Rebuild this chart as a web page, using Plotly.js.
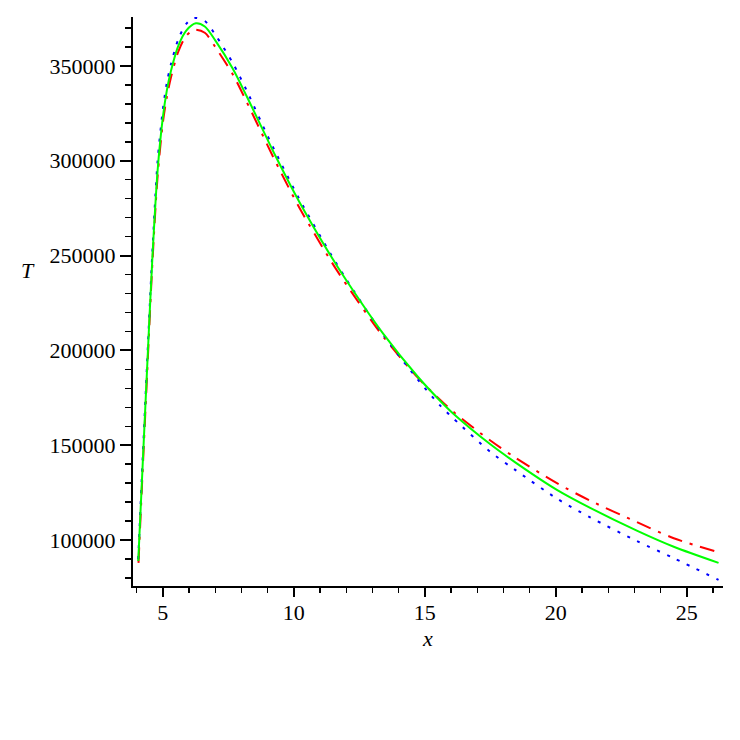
<!DOCTYPE html>
<html>
<head>
<meta charset="utf-8">
<script src="https://cdn.plot.ly/plotly-3.0.1.min.js"></script>
<style>html,body{margin:0;padding:0;background:#fff;}#chart{width:740px;height:740px;}</style>
</head>
<body>
<div id="chart"></div>
<script>
// Green (solid) curve
const xGreen = [4.06, 4.2, 4.4, 4.6, 4.8, 5.0, 5.15, 5.31, 5.6, 5.9, 6.26, 6.6, 7.0, 7.67, 8.2, 9.0, 9.3, 10.2, 11.4, 12.0, 13.4, 14.74, 15.58, 16.1, 17.5, 18.45, 20.04, 21.31, 23.09, 24.5, 26.21];
const yGreen = [89000, 131000, 191000, 249000, 295000, 323000, 337000, 347500, 361000, 368800, 372500, 370800, 363500, 348500, 334000, 311000, 302500, 278500, 250000, 237000, 209000, 186000, 173500, 166500, 150500, 141000, 126500, 117000, 105000, 96500, 88000];

// Red (dash-dot) curve
const xRed = [4.07, 4.2, 4.4, 4.6, 4.8, 5.0, 5.15, 5.31, 5.6, 5.9, 6.2, 6.6, 7.0, 7.67, 8.2, 9.0, 9.3, 10.2, 11.4, 12.0, 13.4, 14.74, 15.58, 16.1, 17.5, 18.45, 20.04, 21.31, 23.09, 24.5, 26.35];
const yRed = [88000, 128000, 188000, 246000, 292000, 320000, 333500, 344000, 358000, 366000, 369100, 367500, 360000, 345500, 331000, 308000, 299500, 275500, 247500, 234800, 207500, 185500, 174000, 167500, 152500, 143500, 130000, 120800, 109500, 101000, 93000];

// Blue (dotted) curve
const xBlue = [4.06, 4.2, 4.4, 4.6, 4.8, 5.0, 5.15, 5.31, 5.6, 5.9, 6.2, 6.6, 7.0, 7.67, 8.2, 9.0, 9.3, 10.2, 11.4, 12.0, 13.4, 14.74, 15.58, 16.1, 17.5, 18.45, 20.04, 21.31, 23.09, 24.5, 26.21];
const yBlue = [90000, 134000, 194000, 252000, 300000, 327000, 341000, 351000, 364500, 372300, 375300, 373700, 366500, 351500, 337000, 313000, 304500, 280000, 251000, 237500, 208500, 184500, 171000, 164000, 146500, 137000, 121900, 112000, 99500, 90500, 79000];

const xTicks = [5, 10, 15, 20, 25];
const yTicks = [100000, 150000, 200000, 250000, 300000, 350000];

const traces = [
  {x: xRed, y: yRed, mode: 'lines', line: {color: '#ff0000', width: 2, dash: '15px,8px,3px,8px', shape: 'spline', smoothing: 0.8}, hoverinfo: 'skip'},
  {x: xBlue, y: yBlue, mode: 'lines', line: {color: '#0000ff', width: 2, dash: '3px,8px', shape: 'spline', smoothing: 0.8}, hoverinfo: 'skip'},
  {x: xGreen, y: yGreen, mode: 'lines', line: {color: '#00ff00', width: 2, shape: 'spline', smoothing: 0.8}, hoverinfo: 'skip'}
];

const font = {family: '"Liberation Serif", "Times New Roman", serif', size: 22, color: '#000'};

const layout = {
  width: 740, height: 740,
  margin: {l: 133, r: 17, t: 17, b: 154, pad: 0},
  paper_bgcolor: '#fff', plot_bgcolor: '#fff',
  showlegend: false,
  font: font,
  xaxis: {
    range: [3.86, 26.38],
    tickmode: 'array', tickvals: xTicks, ticktext: xTicks.map(String),
    ticks: 'outside', ticklen: 9, tickwidth: 2, tickcolor: '#000',
    minor: {dtick: 1, ticks: 'outside', ticklen: 5, tickwidth: 1.5, tickcolor: '#000'},
    showline: true, linewidth: 2, linecolor: '#000',
    showgrid: false, zeroline: false,
    tickfont: font,
    ticklabelstandoff: -3,
    title: {text: '<i>x</i>', font: font, standoff: 6}
  },
  yaxis: {
    range: [75800, 375800],
    tickmode: 'array', tickvals: yTicks, ticktext: yTicks.map(String),
    ticks: 'outside', ticklen: 11, tickwidth: 2, tickcolor: '#000',
    minor: {dtick: 10000, ticks: 'outside', ticklen: 6, tickwidth: 1.5, tickcolor: '#000'},
    showline: true, linewidth: 2, linecolor: '#000',
    showgrid: false, zeroline: false,
    tickfont: font
  },
  annotations: [
    {text: '<i>T</i>', xref: 'paper', yref: 'paper', x: (28 - 133) / 590, y: (586 - 270) / 569, showarrow: false, font: font, xanchor: 'center', yanchor: 'middle'}
  ]
};

Plotly.newPlot('chart', traces, layout, {staticPlot: true, displayModeBar: false});
</script>
</body>
</html>
